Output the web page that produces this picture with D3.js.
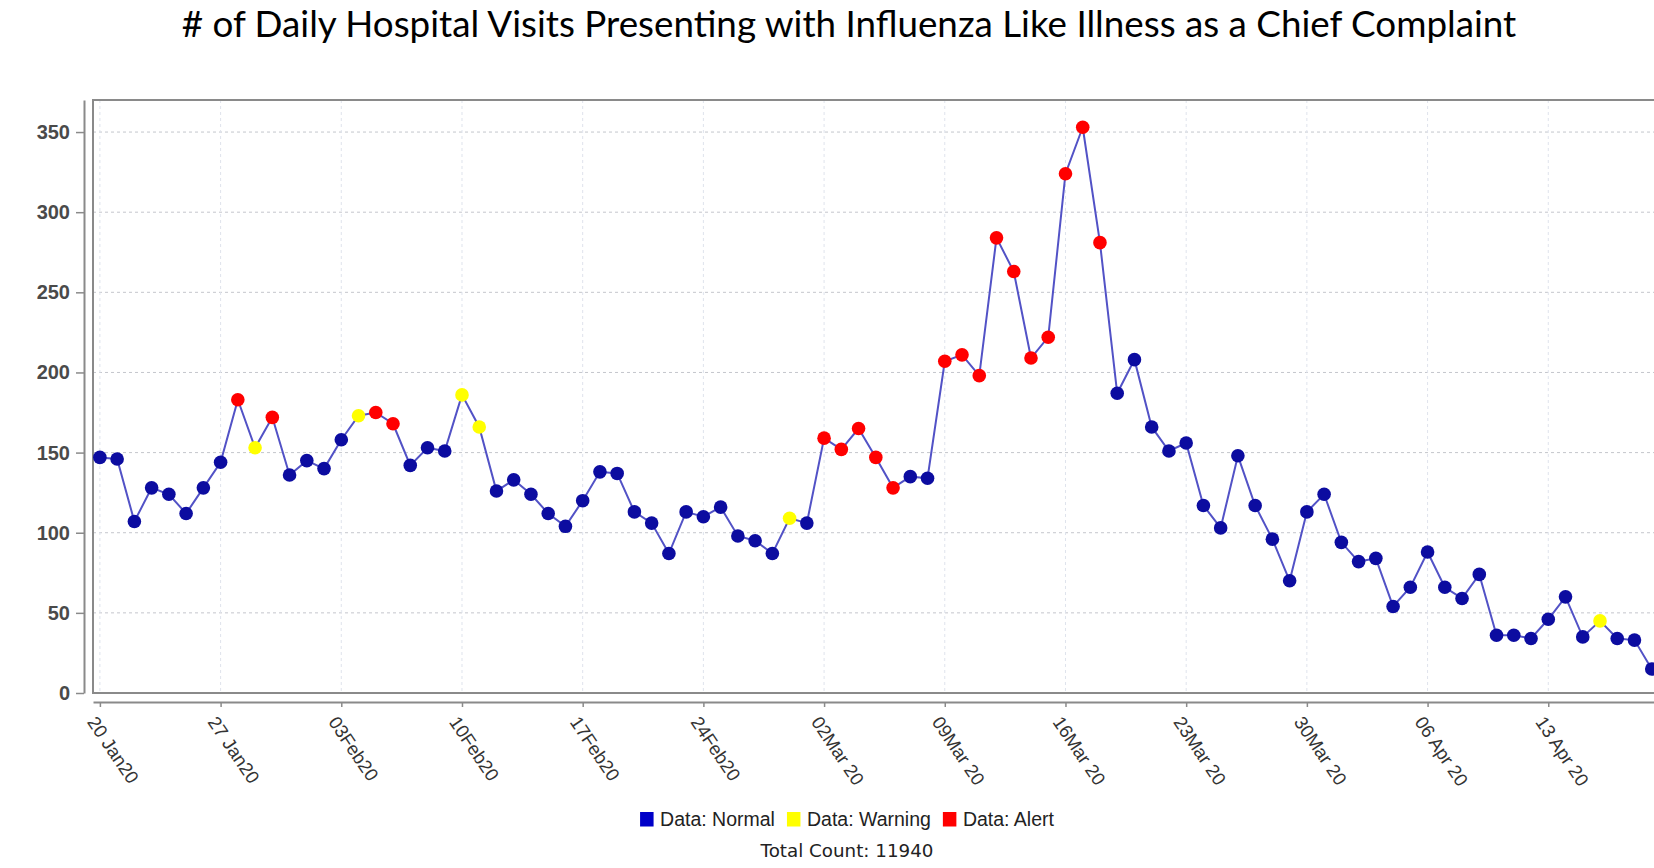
<!DOCTYPE html>
<html><head><meta charset="utf-8">
<script src="https://cdn.jsdelivr.net/npm/d3@7"></script>
<style>html,body{margin:0;padding:0;background:#fff;overflow:hidden}</style>
</head><body>
<svg id="chart" width="1654" height="868"></svg>
<script>
// ---------- data ----------
const chartTitle = "# of Daily Hospital Visits Presenting with Influenza Like Illness as a Chief Complaint";
const startDate = "2020-01-20";
const visits = [
  147,146,107,128,124,112,128,
  144,183,153,172,136,145,140,
  158,173,175,168,142,153,151,
  186,166,126,133,124,112,104,
  120,138,137,113,106,87,113,
  110,116,98,95,87,109,106,
  159,152,165,147,128,135,134,
  207,211,198,284,263,209,222,
  324,353,281,187,208,166,151,
  156,117,103,148,117,96,70,
  113,124,94,82,84,54,66,
  88,66,59,74,36,36,34,
  46,60,35,45,34,33,15
];
const statusCodes = [
  "N","N","N","N","N","N","N",
  "N","A","W","A","N","N","N",
  "N","W","A","A","N","N","N",
  "W","W","N","N","N","N","N",
  "N","N","N","N","N","N","N",
  "N","N","N","N","N","W","N",
  "A","A","A","A","A","N","N",
  "A","A","A","A","A","A","A",
  "A","A","A","N","N","N","N",
  "N","N","N","N","N","N","N",
  "N","N","N","N","N","N","N",
  "N","N","N","N","N","N","N",
  "N","N","N","W","N","N","N"
];
const tickDays = [0,7,14,21,28,35,42,49,56,63,70,77,84];
const tickLabels = ["20 Jan20","27 Jan20","03Feb20","10Feb20","17Feb20","24Feb20","02Mar 20","09Mar 20","16Mar 20","23Mar 20","30Mar 20","06 Apr 20","13 Apr 20"];
const yTicks = [0,50,100,150,200,250,300,350];
const legendCodes = ["N","W","A"];
const legendLabels = ["Data: Normal","Data: Warning","Data: Alert"];
const totalLabel = "Total Count: 11940";

// ---------- layout / style ----------
const colors = {N:"#0c0ca0", W:"#ffff00", A:"#ff0000"};
const legendColors = {N:"#0000c8", W:"#ffff00", A:"#ff0000"};
const plot = {left:93, top:100, right:1700, bottom:693};

const svg = d3.select("#chart");
const x = d3.scaleLinear().domain([-0.4, 92.8]).range([plot.left, plot.right]);
const y = d3.scaleLinear().domain([0, 370]).range([plot.bottom, plot.top]);

function fit(sel, target){
  const w = sel.node().getComputedTextLength();
  const fs = parseFloat(sel.attr("font-size"));
  sel.attr("font-size", fs * target / w);
}

// title
const t = svg.append("text").attr("x", 849).attr("y", 37)
  .attr("text-anchor","middle").attr("font-family","Lato, 'Open Sans', sans-serif")
  .attr("font-size", 32).attr("fill","#000").text(chartTitle);
fit(t, 1335);

// grid
const grid = svg.append("g");
grid.selectAll("line.h").data(yTicks.filter(d=>d>0)).join("line")
  .attr("x1", plot.left).attr("x2", plot.right)
  .attr("y1", d=>y(d)).attr("y2", d=>y(d))
  .attr("stroke","#c4c6cc").attr("stroke-width",1).attr("stroke-dasharray","3,3");
grid.selectAll("line.v").data(tickDays).join("line")
  .attr("x1", d=>x(d)).attr("x2", d=>x(d))
  .attr("y1", plot.top).attr("y2", plot.bottom)
  .attr("stroke","#dfe3ec").attr("stroke-width",1).attr("stroke-dasharray","3,3");

// frame
svg.append("rect").attr("x", plot.left).attr("y", plot.top)
  .attr("width", plot.right-plot.left).attr("height", plot.bottom-plot.top)
  .attr("fill","none").attr("stroke","#8a8a8a").attr("stroke-width",2);

// y axis
const yAxis = svg.append("g").attr("transform","translate(84,0)")
  .call(d3.axisLeft(y).tickValues(yTicks).tickSize(8).tickSizeOuter(0).tickPadding(6));
yAxis.select(".domain").attr("stroke","#8a8a8a").attr("stroke-width",2);
yAxis.selectAll(".tick line").attr("stroke","#8a8a8a").attr("stroke-width",1.5);
yAxis.selectAll(".tick text").attr("font-family","'Liberation Sans', Arial, sans-serif")
  .attr("font-size",20).attr("font-weight","bold").attr("fill","#4a4a4a");

// x axis
const xAxis = svg.append("g").attr("transform","translate(0,702)")
  .call(d3.axisBottom(x).tickValues(tickDays).tickFormat((d,i)=>tickLabels[i]).tickSize(5).tickSizeOuter(0));
xAxis.select(".domain").attr("stroke","#8a8a8a").attr("stroke-width",2);
xAxis.selectAll(".tick line").attr("stroke","#8a8a8a").attr("stroke-width",1.5);
xAxis.selectAll(".tick text")
  .attr("font-family","'Liberation Sans', Arial, sans-serif").attr("font-size",18.5)
  .attr("fill","#333").attr("text-anchor","start")
  .attr("x",0).attr("y",0).attr("dy","0")
  .attr("transform","translate(-14,20) rotate(56)");

// line
const idx = d3.range(visits.length);
svg.append("path").datum(idx)
  .attr("fill","none").attr("stroke","#5252c6").attr("stroke-width",2)
  .attr("d", d3.line().x(i=>x(i)).y(i=>y(visits[i])));

// points
svg.append("g").selectAll("circle").data(idx).join("circle")
  .attr("cx", i=>x(i)).attr("cy", i=>y(visits[i])).attr("r", 6.8)
  .attr("fill", i=>colors[statusCodes[i]]);

// legend
const lg = svg.append("g");
let cx = 0;
legendCodes.forEach((c,k)=>{
  lg.append("rect").attr("x", cx).attr("y", -14).attr("width",13.5).attr("height",14.5).attr("fill", legendColors[c]);
  const tx = lg.append("text").attr("x", cx+20).attr("y", 0)
    .attr("font-family","'Liberation Sans', Arial, sans-serif").attr("font-size",19.5).attr("fill","#222")
    .text(legendLabels[k]);
  cx += 20 + tx.node().getComputedTextLength() + 12;
});
const lw = cx - 12;
lg.attr("transform", `translate(${847 - lw/2},826)`);

const tc = svg.append("text").attr("x", 847).attr("y", 857).attr("text-anchor","middle")
  .attr("font-family","'DejaVu Sans', Verdana, sans-serif").attr("font-size",16).attr("fill","#222")
  .text(totalLabel);
fit(tc, 173);
</script>
</body></html>
